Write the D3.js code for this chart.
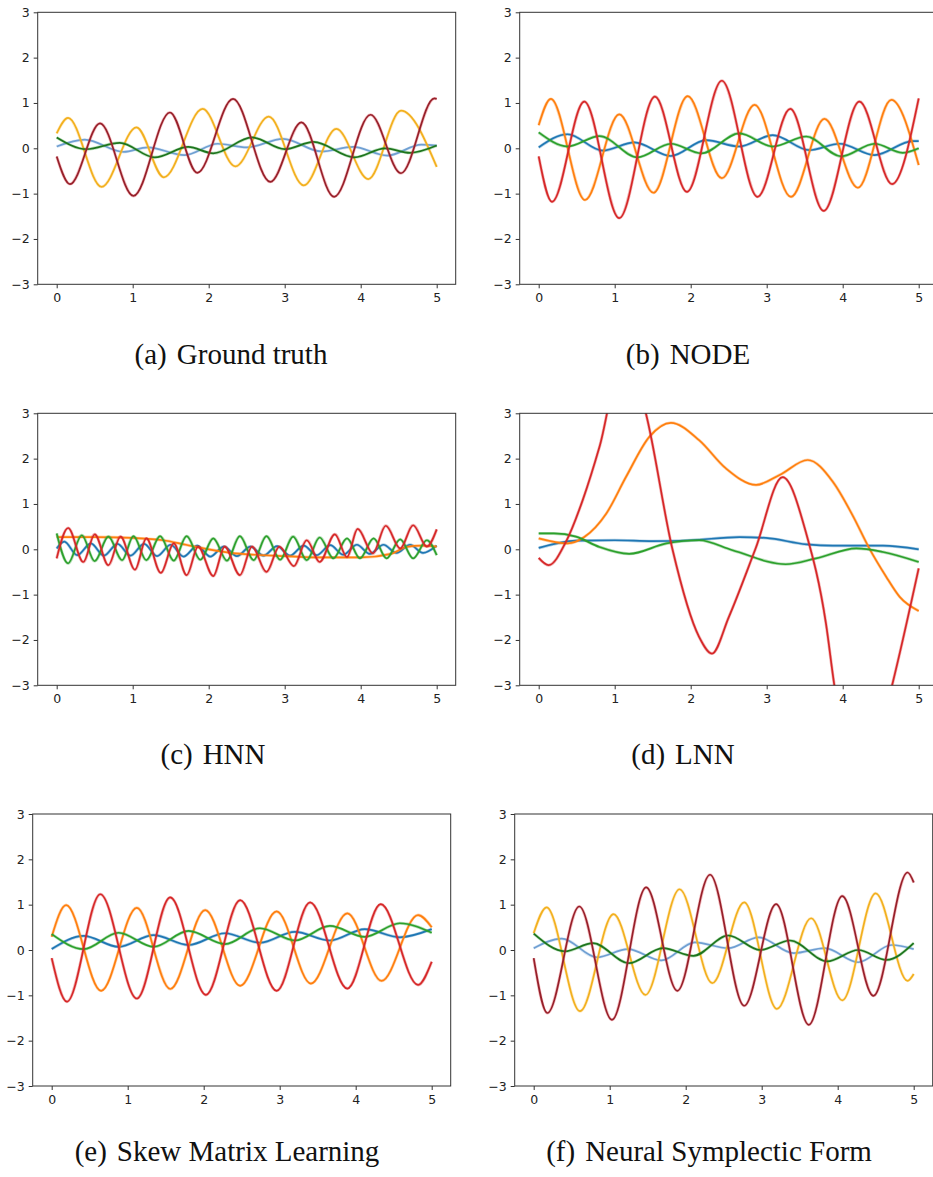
<!DOCTYPE html>
<html>
<head>
<meta charset="utf-8">
<script src="https://d3js.org/d3.v7.min.js"></script>
<style>
  html, body { margin: 0; padding: 0; background: #fff; }
  svg { display: block; }
</style>
</head>
<body>
<svg width="933" height="1177"></svg>
<script>
// tick values shared by every panel
var xTicks = [0, 1, 2, 3, 4, 5];
var yTicks = [-3, -2, -1, 0, 1, 2, 3];

// sub-figure captions
var labels = ["(a)", "(b)", "(c)", "(d)", "(e)", "(f)"];
var titles = ["Ground truth", "NODE", "HNN", "LNN", "Skew Matrix Learning", "Neural Symplectic Form"];

// (a) ground truth  [t, value]
var gtBlue   = [[0,0.04],[0.37,0.19],[0.88,-0.08],[1.2,0.02],[1.68,-0.15],[2.12,0.1],[2.5,0.02],[2.98,0.21],[3.48,-0.07],[3.9,0.03],[4.35,-0.16],[4.8,0.08],[5,0.06]];
var gtOrange = [[0,0.33],[0.15,0.67],[0.59,-0.85],[1.05,0.46],[1.41,-0.64],[1.92,0.87],[2.35,-0.4],[2.79,0.7],[3.25,-0.82],[3.68,0.43],[4.1,-0.68],[4.53,0.83],[5,-0.41]];
var gtGreen  = [[0,0.24],[0.39,-0.02],[0.83,0.12],[1.29,-0.2],[1.73,0.03],[2.06,-0.11],[2.57,0.24],[3.0,-0.02],[3.38,0.14],[3.92,-0.2],[4.32,0.0],[4.65,-0.1],[5,0.06]];
var gtRed    = [[0,-0.18],[0.175,-0.79],[0.57,0.55],[1.01,-1.05],[1.49,0.79],[1.85,-0.54],[2.32,1.09],[2.81,-0.74],[3.22,0.57],[3.65,-1.07],[4.13,0.74],[4.53,-0.55],[4.97,1.1],[5,1.09]];

// (b) NODE
var nodeBlue   = [[0,0.02],[0.38,0.31],[0.84,-0.05],[1.26,0.13],[1.74,-0.17],[2.2,0.18],[2.64,0.04],[3.08,0.29],[3.56,-0.04],[3.96,0.1],[4.42,-0.15],[4.92,0.16],[5,0.16]];
var nodeOrange = [[0,0.51],[0.16,1.09],[0.61,-1.14],[1.06,0.75],[1.51,-0.98],[1.96,1.15],[2.41,-0.66],[2.84,0.96],[3.32,-1.07],[3.76,0.65],[4.2,-0.87],[4.64,1.07],[5,-0.37]];
var nodeGreen  = [[0,0.35],[0.38,0.04],[0.8,0.27],[1.3,-0.2],[1.74,0.1],[2.14,-0.11],[2.64,0.33],[3.08,0.04],[3.52,0.26],[3.98,-0.18],[4.42,0.1],[4.79,-0.1],[5,0.0]];
var nodeRed    = [[0,-0.18],[0.175,-1.18],[0.6,1.03],[1.06,-1.54],[1.53,1.14],[1.95,-0.96],[2.41,1.49],[2.88,-1.07],[3.31,0.87],[3.75,-1.38],[4.22,1.03],[4.65,-0.79],[5,1.1]];

// (c) HNN
var hnnBlue   = [[0,0.02],[0.1,0.17],[0.27,-0.13],[0.45,0.13],[0.62,-0.14],[0.8,0.12],[0.97,-0.14],[1.15,0.12],[1.32,-0.15],[1.5,0.1],[1.67,-0.16],[1.85,0.08],[2.02,-0.16],[2.2,0.06],[2.37,-0.15],[2.55,0.06],[2.72,-0.14],[2.9,0.07],[3.07,-0.14],[3.25,0.08],[3.42,-0.13],[3.6,0.09],[3.77,-0.12],[3.95,0.1],[4.12,-0.1],[4.3,0.1],[4.47,-0.08],[4.65,0.1],[4.82,-0.08],[5,0.08]];
var hnnOrange = [[0,0.27],[0.5,0.27],[1.0,0.25],[1.4,0.2],[1.7,0.1],[2.0,0.0],[2.3,-0.08],[2.6,-0.12],[3.0,-0.15],[3.5,-0.18],[4.0,-0.18],[4.4,-0.1],[4.6,0.05],[4.8,0.08],[5,0.06]];
var hnnGreen  = [[0,0.35],[0.15,-0.31],[0.33,0.31],[0.5,-0.26],[0.68,0.28],[0.86,-0.24],[1.01,0.29],[1.18,-0.24],[1.36,0.29],[1.54,-0.25],[1.71,0.29],[1.89,-0.23],[2.06,0.24],[2.24,-0.25],[2.41,0.29],[2.59,-0.24],[2.76,0.29],[2.94,-0.23],[3.11,0.28],[3.29,-0.24],[3.46,0.26],[3.64,-0.2],[3.82,0.24],[3.99,-0.2],[4.17,0.24],[4.34,-0.2],[4.52,0.22],[4.69,-0.2],[4.87,0.2],[5,-0.13]];
var hnnRed    = [[0,-0.2],[0.15,0.47],[0.35,-0.28],[0.5,0.33],[0.68,-0.35],[0.84,0.28],[1.03,-0.45],[1.18,0.24],[1.37,-0.52],[1.54,0.13],[1.71,-0.57],[1.86,0.06],[2.06,-0.59],[2.21,0.06],[2.41,-0.57],[2.57,0.06],[2.76,-0.5],[2.93,0.06],[3.12,-0.37],[3.29,0.2],[3.46,-0.28],[3.66,0.33],[3.82,-0.17],[3.96,0.45],[4.16,-0.09],[4.33,0.52],[4.52,0.02],[4.69,0.53],[4.87,0.06],[5,0.44]];

// (d) LNN
var lnnBlue   = [[0,0.03],[0.49,0.19],[1.0,0.2],[1.5,0.18],[2.0,0.2],[2.64,0.27],[2.99,0.25],[3.52,0.11],[3.87,0.08],[4.53,0.08],[5,0.0]];
var lnnOrange = [[0,0.24],[0.38,0.13],[0.6,0.27],[0.89,0.79],[1.15,1.6],[1.46,2.49],[1.74,2.79],[2.11,2.41],[2.46,1.79],[2.86,1.42],[3.17,1.64],[3.54,1.97],[3.87,1.49],[4.13,0.75],[4.35,0.02],[4.57,-0.6],[4.75,-1.05],[5,-1.36]];
var lnnGreen  = [[0,0.35],[0.2,0.35],[0.49,0.28],[0.8,0.05],[1.19,-0.1],[1.68,0.13],[2.11,0.2],[2.55,-0.02],[3.25,-0.33],[3.65,-0.2],[4.18,0.02],[4.53,-0.06],[5,-0.28]];
var lnnRed    = [[0,-0.19],[0.13,-0.35],[0.36,0.17],[0.58,1.09],[0.8,2.26],[1.13,4.4],[1.41,3.0],[1.76,0.0],[2.11,-1.93],[2.28,-2.3],[2.5,-1.5],[2.85,0.0],[3.21,1.59],[3.52,0.35],[3.78,-1.64],[3.89,-3.0],[4.27,-5.3],[4.65,-3.0],[5,-0.42]];

// (e) Skew Matrix Learning
var skewBlue   = [[0,0.02],[0.42,0.31],[0.88,0.07],[1.34,0.33],[1.8,0.11],[2.28,0.37],[2.74,0.16],[3.2,0.4],[3.66,0.21],[4.12,0.46],[4.58,0.28],[5,0.46]];
var skewOrange = [[0,0.29],[0.19,0.99],[0.65,-0.9],[1.12,0.93],[1.56,-0.86],[2.02,0.88],[2.48,-0.79],[2.96,0.85],[3.41,-0.74],[3.89,0.81],[4.34,-0.68],[4.82,0.77],[5,0.5]];
var skewGreen  = [[0,0.35],[0.42,0.02],[0.88,0.38],[1.34,0.07],[1.8,0.42],[2.28,0.13],[2.74,0.48],[3.2,0.21],[3.66,0.53],[4.12,0.29],[4.58,0.59],[5,0.38]];
var skewRed    = [[0,-0.18],[0.2,-1.14],[0.64,1.23],[1.12,-1.07],[1.56,1.16],[2.03,-0.99],[2.48,1.1],[2.96,-0.9],[3.4,1.05],[3.89,-0.85],[4.33,1.01],[4.82,-0.77],[5,-0.26]];

// (f) Neural Symplectic Form
var nsfBlue   = [[0,0.04],[0.37,0.25],[0.83,-0.16],[1.24,0.02],[1.68,-0.23],[2.12,0.17],[2.56,0.04],[2.96,0.28],[3.42,-0.07],[3.83,0.04],[4.27,-0.27],[4.71,0.11],[5,0.02]];
var nsfOrange = [[0,0.37],[0.17,0.94],[0.61,-1.35],[1.05,0.79],[1.47,-0.99],[1.92,1.34],[2.35,-0.73],[2.77,1.05],[3.2,-1.3],[3.65,0.7],[4.06,-1.11],[4.5,1.25],[4.92,-0.68],[5,-0.53]];
var nsfGreen  = [[0,0.36],[0.41,-0.03],[0.78,0.15],[1.25,-0.29],[1.7,0.04],[2.1,-0.13],[2.56,0.32],[2.98,0.0],[3.37,0.21],[3.86,-0.25],[4.27,0.0],[4.64,-0.22],[5,0.15]];
var nsfRed    = [[0,-0.18],[0.18,-1.39],[0.6,0.96],[1.03,-1.54],[1.48,1.38],[1.89,-0.9],[2.32,1.66],[2.77,-1.23],[3.19,1.01],[3.62,-1.65],[4.06,1.19],[4.47,-1.01],[4.92,1.71],[5,1.49]];

// colours: ground truth style and matplotlib tab10 style
var gtColors  = {core: ["#6f9fd2", "#f2b01e", "#1d741d", "#96202a"], halo: ["#9cc0e6", "#ffc04a", "#43a843", "#e0404a"]};
var tabColors = {core: ["#1f77b4", "#ff7f0e", "#2ca02c", "#d62728"], halo: ["#1f77b4", "#ff7f0e", "#2ca02c", "#d62728"]};

var W = 418, H = 272;
var panels = [
  {left: 37.7,  top: 12.3,  series: [gtBlue, gtOrange, gtGreen, gtRed],         colors: gtColors,  cx: 231, cy: 364},
  {left: 519.7, top: 12.3,  series: [nodeBlue, nodeOrange, nodeGreen, nodeRed], colors: tabColors, cx: 688, cy: 364},
  {left: 37.7,  top: 413.3, series: [hnnBlue, hnnOrange, hnnGreen, hnnRed],     colors: tabColors, cx: 213, cy: 764},
  {left: 519.7, top: 413.3, series: [lnnBlue, lnnOrange, lnnGreen, lnnRed],     colors: tabColors, cx: 683, cy: 764},
  {left: 32.7,  top: 814,   series: [skewBlue, skewOrange, skewGreen, skewRed], colors: tabColors, cx: 227, cy: 1161},
  {left: 514.7, top: 814,   series: [nsfBlue, nsfOrange, nsfGreen, nsfRed],     colors: gtColors,  cx: 709, cy: 1161}
];

var svg = d3.select("svg");

var x = d3.scaleLinear().domain([-0.25, 5.25]).range([0, W]);
var y = d3.scaleLinear().domain([-3, 3]).range([H, 0]);

var line = d3.line()
    .x(function(d) { return x(d[0]); })
    .y(function(d) { return y(d[1]); })
    .curve(d3.curveMonotoneX);

var fmt = function(d) { return d < 0 ? "\u2212" + Math.abs(d) : String(d); };

panels.forEach(function(p, i) {
  var g = svg.append("g").attr("transform", "translate(" + p.left + "," + p.top + ")");

  svg.append("clipPath").attr("id", "clip" + i)
    .append("rect").attr("width", W).attr("height", H);

  var plot = g.append("g").attr("clip-path", "url(#clip" + i + ")");

  p.series.forEach(function(s, k) {
    plot.append("path")
      .attr("d", line(s))
      .attr("fill", "none")
      .attr("stroke", p.colors.halo[k])
      .attr("stroke-opacity", 0.35)
      .attr("stroke-width", 3);
    plot.append("path")
      .attr("d", line(s))
      .attr("fill", "none")
      .attr("stroke", p.colors.core[k])
      .attr("stroke-width", 1.7);
  });

  // axes
  var xAxis = g.append("g").attr("transform", "translate(0," + H + ")")
    .call(d3.axisBottom(x).tickValues(xTicks).tickSize(4).tickPadding(5).tickFormat(fmt));
  var yAxis = g.append("g")
    .call(d3.axisLeft(y).tickValues(yTicks).tickSize(4).tickPadding(4).tickFormat(fmt));
  [xAxis, yAxis].forEach(function(a) {
    a.select(".domain").remove();
    a.selectAll("line").attr("stroke", "#333");
    a.selectAll("text").attr("fill", "#222")
      .style("font-family", "DejaVu Sans").style("font-size", "12.5px");
  });

  g.append("rect")
    .attr("width", W).attr("height", H)
    .attr("fill", "none").attr("stroke", "#333").attr("stroke-width", 1);

  // caption
  var t = svg.append("text")
    .attr("x", p.cx).attr("y", p.cy)
    .attr("text-anchor", "middle")
    .style("font-family", "Liberation Serif")
    .style("font-size", "29px")
    .attr("fill", "#111");
  t.append("tspan").text(labels[i]);
  t.append("tspan").attr("dx", 10).text(titles[i]);
});
</script>
</body>
</html>
